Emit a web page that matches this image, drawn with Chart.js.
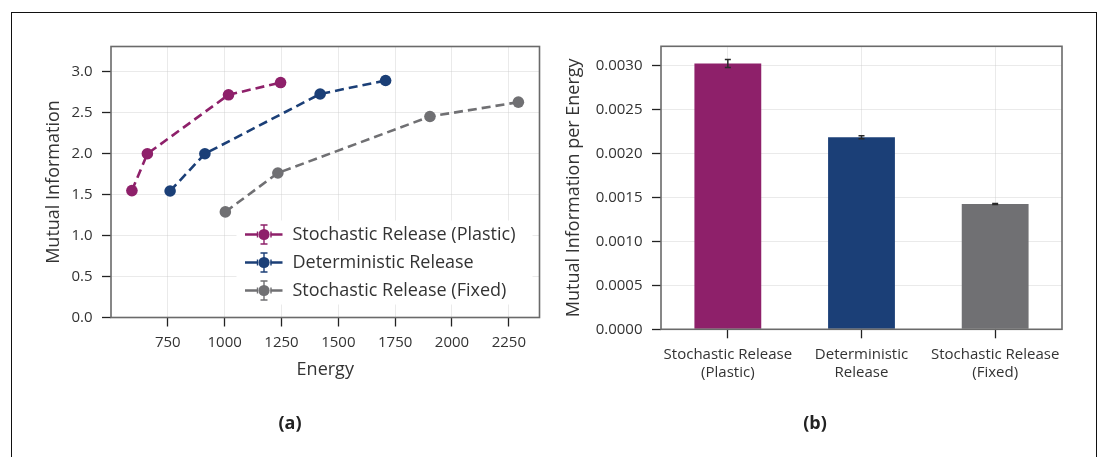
<!DOCTYPE html>
<html>
<head>
<meta charset="utf-8">
<script src="https://cdn.jsdelivr.net/npm/chart.js@4/dist/chart.umd.min.js"></script>
<style>
  html, body { margin: 0; padding: 0; background: #fff; }
  body { width: 1099px; height: 457px; position: relative; overflow: hidden; font-family: 'Open Sans', sans-serif; }
  .frame { position: absolute; left: 11px; top: 12px; width: 1086px; height: 470px; border: 1.5px solid #111; box-sizing: border-box; }
  .panel { position: absolute; top: 0; width: 549px; height: 457px; }
  .tag { position: absolute; top: 410px; width: 60px; margin-left: -30px; text-align: center; font-weight: 700; font-size: 18px; color: #222; line-height: 24px; }
</style>
</head>
<body>
<div class="frame"></div>
<div class="panel" style="left:0"><canvas id="curve" width="549" height="457"></canvas></div>
<div class="panel" style="left:550px"><canvas id="bars" width="549" height="457"></canvas></div>
<div class="tag" style="left:290px">(a)</div>
<div class="tag" style="left:815px">(b)</div>

<script>
// ---- data: mutual information vs. energy -------------------------------
const seriesLabels = ['Stochastic Release (Plastic)', 'Deterministic Release', 'Stochastic Release (Fixed)'];
const energyPlastic = [592, 660, 1017, 1246];
const miPlastic     = [1.55, 2.0, 2.72, 2.87];
const energyDet     = [760, 913, 1420, 1708];
const miDet         = [1.545, 2.0, 2.73, 2.895];
const energyFixed   = [1003, 1234, 1903, 2292];
const miFixed       = [1.29, 1.765, 2.455, 2.63];
const energyTicks   = [750, 1000, 1250, 1500, 1750, 2000, 2250];
const miTicks       = [0, 0.5, 1.0, 1.5, 2.0, 2.5, 3.0];

// ---- data: mutual information per unit energy -------------------------
const barCategories = [['Stochastic Release', '(Plastic)'], ['Deterministic', 'Release'], ['Stochastic Release', '(Fixed)']];
const miPerEnergy    = [0.00302, 0.002182, 0.001424];
const miPerEnergyErr = [0.000045, 0.000017, 0.000006];
const rateTicks      = [0, 0.0005, 0.0010, 0.0015, 0.0020, 0.0025, 0.0030];

const colors = ['#8e206a', '#1b3f77', '#707073'];

Chart.defaults.font.family = "'Open Sans', sans-serif";
Chart.defaults.color = '#333';
Chart.defaults.devicePixelRatio = 1;

const gridColor = 'rgba(200,200,200,0.38)';
const tickColor = '#222';

// frame around the plotting area
const frameBox = {
  id: 'frameBox',
  afterDraw(chart) {
    const { ctx, chartArea: a } = chart;
    ctx.save();
    ctx.strokeStyle = '#6a6a6a';
    ctx.lineWidth = 1.6;
    ctx.strokeRect(a.left, a.top, a.right - a.left, a.bottom - a.top);
    ctx.restore();
  }
};

// legend with errorbar-style keys, placed in the lower right of the plot
const errorbarLegend = {
  id: 'errorbarLegend',
  afterDatasetsDraw(chart) {
    const { ctx, chartArea: a } = chart;
    const x0 = a.right - 303;
    const y0 = a.bottom - 97;
    ctx.save();
    ctx.fillStyle = '#fff';
    ctx.beginPath();
    ctx.roundRect(x0, y0, 296, 84, 3);
    ctx.fill();
    ctx.font = "18px 'Open Sans', sans-serif";
    ctx.textBaseline = 'middle';
    ctx.textAlign = 'left';
    chart.data.datasets.forEach((ds, i) => {
      const y = y0 + 14 + i * 28;
      const cx = x0 + 27.5;
      ctx.strokeStyle = ds.borderColor;
      ctx.fillStyle = ds.borderColor;
      ctx.lineWidth = 2.6;
      ctx.beginPath();
      ctx.moveTo(x0 + 8.5, y); ctx.lineTo(x0 + 21.5, y);
      ctx.moveTo(x0 + 34, y); ctx.lineTo(x0 + 46, y);
      ctx.stroke();
      ctx.lineWidth = 1.4;
      ctx.beginPath();
      // horizontal error caps
      ctx.moveTo(cx - 6.5, y - 3); ctx.lineTo(cx - 6.5, y + 3);
      ctx.moveTo(cx + 7, y - 3); ctx.lineTo(cx + 7, y + 3);
      // vertical error bar with caps
      ctx.moveTo(cx, y - 9.5); ctx.lineTo(cx, y + 9.5);
      ctx.moveTo(cx - 3.5, y - 9.5); ctx.lineTo(cx + 3.5, y - 9.5);
      ctx.moveTo(cx - 3.5, y + 9.5); ctx.lineTo(cx + 3.5, y + 9.5);
      ctx.stroke();
      ctx.beginPath();
      ctx.arc(cx, y, 5.6, 0, Math.PI * 2);
      ctx.fill();
      ctx.fillStyle = '#333';
      ctx.fillText(ds.label, x0 + 56, y + 0.5);
    });
    ctx.restore();
  }
};

function pairs(xs, ys) { return xs.map((x, i) => ({ x, y: ys[i] })); }

const curveSets = [
  [energyPlastic, miPlastic],
  [energyDet, miDet],
  [energyFixed, miFixed]
].map(([xs, ys], i) => ({
  label: seriesLabels[i],
  data: pairs(xs, ys),
  borderColor: colors[i],
  backgroundColor: colors[i],
  borderWidth: 2.6,
  borderDash: [9, 5],
  pointRadius: 5.8,
  pointHoverRadius: 5.8,
  pointBorderWidth: 0,
  pointBackgroundColor: colors[i],
  tension: 0,
  fill: false
}));

new Chart(document.getElementById('curve'), {
  type: 'line',
  data: { datasets: curveSets },
  options: {
    responsive: false,
    animation: false,
    events: [],
    layout: { padding: { left: 42.7, top: 46.5, right: 9.5, bottom: 76.2 } },
    plugins: { legend: { display: false }, tooltip: { enabled: false } },
    scales: {
      x: {
        type: 'linear',
        min: 500, max: 2385,
        afterBuildTicks: s => { s.ticks = energyTicks.map(v => ({ value: v })); },
        afterFit: s => { s.height = 63.3; },
        ticks: { font: { size: 15 }, padding: 7.2, color: '#333', callback: v => String(v) },
        grid: { color: gridColor, lineWidth: 1, tickColor: tickColor, tickLength: 9, tickWidth: 1.3 },
        border: { display: false },
        title: { display: true, text: 'Energy', font: { size: 18 }, color: '#333', padding: 0 }
      },
      y: {
        min: 0, max: 3.31,
        afterBuildTicks: s => { s.ticks = miTicks.map(v => ({ value: v })); },
        afterFit: s => { s.width = 68.3; },
        ticks: { font: { size: 15 }, padding: 9.5, color: '#333', callback: v => v.toFixed(1) },
        grid: { color: gridColor, lineWidth: 1, tickColor: tickColor, tickLength: 9, tickWidth: 1.3 },
        border: { display: false },
        title: { display: true, text: 'Mutual Information', font: { size: 18 }, color: '#333', padding: 0 }
      }
    }
  },
  plugins: [frameBox, errorbarLegend]
});

// error bars on top of each bar
const barErrors = {
  id: 'barErrors',
  afterDatasetsDraw(chart) {
    const { ctx } = chart;
    const yScale = chart.scales.y;
    const meta = chart.getDatasetMeta(0);
    ctx.save();
    ctx.strokeStyle = '#2a2a2a';
    ctx.lineWidth = 1.5;
    meta.data.forEach((bar, i) => {
      const v = miPerEnergy[i], e = miPerEnergyErr[i];
      const yTop = yScale.getPixelForValue(v + e);
      const yBot = yScale.getPixelForValue(v - e);
      ctx.beginPath();
      ctx.moveTo(bar.x, yTop); ctx.lineTo(bar.x, yBot);
      ctx.moveTo(bar.x - 3, yTop); ctx.lineTo(bar.x + 3, yTop);
      ctx.moveTo(bar.x - 3, yBot); ctx.lineTo(bar.x + 3, yBot);
      ctx.stroke();
    });
    ctx.restore();
  }
};

new Chart(document.getElementById('bars'), {
  type: 'bar',
  data: {
    labels: barCategories,
    datasets: [{
      data: miPerEnergy,
      backgroundColor: colors,
      borderWidth: 0,
      barPercentage: 0.5,
      categoryPercentage: 1.0
    }]
  },
  options: {
    responsive: false,
    animation: false,
    events: [],
    layout: { padding: { left: 12.7, top: 46.3, right: 37, bottom: 47.7 } },
    plugins: { legend: { display: false }, tooltip: { enabled: false } },
    scales: {
      x: {
        z: 1,
        afterFit: s => { s.height = 80; },
        ticks: { font: { size: 15, lineHeight: 1.18 }, padding: 7.5, color: '#333', maxRotation: 0, autoSkip: false },
        grid: { offset: false, color: gridColor, lineWidth: 1, tickColor: tickColor, tickLength: 9, tickWidth: 1.3 },
        border: { display: false }
      },
      y: {
        z: 1,
        min: 0, max: 0.003216,
        afterBuildTicks: s => { s.ticks = rateTicks.map(v => ({ value: v })); },
        afterFit: s => { s.width = 98.3; },
        ticks: { font: { size: 15 }, padding: 9.5, color: '#333', callback: v => v.toFixed(4) },
        grid: { color: gridColor, lineWidth: 1, tickColor: tickColor, tickLength: 9, tickWidth: 1.3 },
        border: { display: false },
        title: { display: true, text: 'Mutual Information per Energy', font: { size: 18 }, color: '#333', padding: 0 }
      }
    }
  },
  plugins: [barErrors, frameBox]
});
</script>
</body>
</html>
